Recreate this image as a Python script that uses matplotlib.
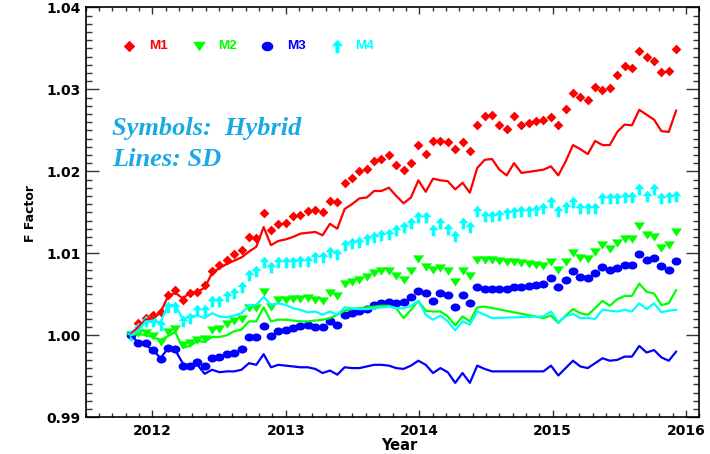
import numpy as np
import matplotlib
matplotlib.use("Agg")
import matplotlib.pyplot as plt
from matplotlib.path import Path
from matplotlib.ticker import MultipleLocator, FormatStrFormatter

# decimal year of each sample
years = [2011.840, 2011.895, 2011.950, 2012.006, 2012.061, 2012.116, 2012.171, 2012.227,
         2012.282, 2012.337, 2012.392, 2012.447, 2012.503, 2012.558, 2012.613, 2012.668,
         2012.724, 2012.779, 2012.834, 2012.889, 2012.944, 2013.000, 2013.055, 2013.110,
         2013.165, 2013.221, 2013.276, 2013.331, 2013.386, 2013.441, 2013.497, 2013.552,
         2013.607, 2013.662, 2013.717, 2013.773, 2013.828, 2013.883, 2013.938, 2013.994,
         2014.049, 2014.104, 2014.159, 2014.214, 2014.270, 2014.325, 2014.380, 2014.435,
         2014.491, 2014.546, 2014.601, 2014.656, 2014.711, 2014.767, 2014.822, 2014.877,
         2014.932, 2014.988, 2015.043, 2015.098, 2015.153, 2015.208, 2015.264, 2015.319,
         2015.374, 2015.429, 2015.485, 2015.540, 2015.595, 2015.650, 2015.705, 2015.761,
         2015.816, 2015.871, 2015.926]

# Hybrid method (symbols)
m1_hybrid = [1.0000, 1.0015, 1.0021, 1.0025, 1.0029, 1.0049, 1.0055, 1.0043, 1.0052, 1.0053,
             1.0061, 1.0078, 1.0086, 1.0092, 1.0099, 1.0104, 1.0120, 1.0119, 1.0149, 1.0128,
             1.0136, 1.0137, 1.0145, 1.0147, 1.0151, 1.0153, 1.0150, 1.0164, 1.0162, 1.0186,
             1.0192, 1.0200, 1.0203, 1.0213, 1.0215, 1.0220, 1.0208, 1.0202, 1.0210, 1.0232,
             1.0221, 1.0237, 1.0237, 1.0236, 1.0227, 1.0236, 1.0225, 1.0256, 1.0267, 1.0269,
             1.0256, 1.0251, 1.0267, 1.0256, 1.0259, 1.0261, 1.0263, 1.0266, 1.0257, 1.0276,
             1.0296, 1.0291, 1.0287, 1.0303, 1.0299, 1.0301, 1.0318, 1.0328, 1.0326, 1.0347,
             1.0340, 1.0335, 1.0321, 1.0322, 1.0349]
m2_hybrid = [1.0000, 1.0003, 1.0003, 0.9999, 0.9992, 1.0004, 1.0008, 0.9988, 0.9990, 0.9994,
             0.9995, 1.0006, 1.0008, 1.0014, 1.0017, 1.0020, 1.0033, 1.0033, 1.0053, 1.0035,
             1.0043, 1.0043, 1.0044, 1.0044, 1.0045, 1.0043, 1.0042, 1.0051, 1.0048, 1.0063,
             1.0065, 1.0067, 1.0071, 1.0076, 1.0078, 1.0079, 1.0072, 1.0068, 1.0079, 1.0093,
             1.0083, 1.0080, 1.0082, 1.0078, 1.0065, 1.0079, 1.0072, 1.0092, 1.0092, 1.0092,
             1.0091, 1.0090, 1.0089, 1.0088, 1.0087, 1.0086, 1.0085, 1.0090, 1.0080, 1.0090,
             1.0100, 1.0094, 1.0093, 1.0102, 1.0110, 1.0105, 1.0113, 1.0117, 1.0117, 1.0133,
             1.0122, 1.0120, 1.0107, 1.0110, 1.0126]
m3_hybrid = [1.0000, 0.9991, 0.9990, 0.9982, 0.9971, 0.9985, 0.9983, 0.9963, 0.9963, 0.9967,
             0.9963, 0.9972, 0.9973, 0.9977, 0.9978, 0.9983, 0.9998, 0.9998, 1.0011, 0.9999,
             1.0005, 1.0007, 1.0009, 1.0011, 1.0013, 1.0010, 1.0010, 1.0017, 1.0013, 1.0025,
             1.0027, 1.0030, 1.0032, 1.0037, 1.0040, 1.0041, 1.0040, 1.0041, 1.0047, 1.0054,
             1.0052, 1.0042, 1.0051, 1.0049, 1.0035, 1.0049, 1.0039, 1.0059, 1.0056, 1.0056,
             1.0057, 1.0057, 1.0059, 1.0059, 1.0060, 1.0061, 1.0063, 1.0070, 1.0059, 1.0067,
             1.0078, 1.0071, 1.0070, 1.0076, 1.0083, 1.0080, 1.0082, 1.0086, 1.0086, 1.0099,
             1.0092, 1.0094, 1.0084, 1.0080, 1.0091]
m4_hybrid = [1.0000, 1.0009, 1.0018, 1.0018, 1.0013, 1.0035, 1.0035, 1.0018, 1.0021, 1.0031,
             1.0031, 1.0042, 1.0042, 1.0048, 1.0051, 1.0059, 1.0073, 1.0078, 1.0089, 1.0083,
             1.0089, 1.0089, 1.0090, 1.0091, 1.0091, 1.0095, 1.0096, 1.0101, 1.0099, 1.0110,
             1.0112, 1.0114, 1.0117, 1.0120, 1.0122, 1.0124, 1.0128, 1.0132, 1.0137, 1.0144,
             1.0144, 1.0129, 1.0137, 1.0130, 1.0121, 1.0137, 1.0132, 1.0151, 1.0146, 1.0145,
             1.0147, 1.0149, 1.0150, 1.0151, 1.0152, 1.0153, 1.0155, 1.0162, 1.0151, 1.0156,
             1.0163, 1.0155, 1.0155, 1.0155, 1.0168, 1.0167, 1.0167, 1.0169, 1.0169, 1.0178,
             1.0170, 1.0178, 1.0167, 1.0169, 1.0170]

# SD method (lines), None = no SD value for that date
m1_sd = [1.0002, 1.0010, 1.0019, 1.0021, 1.0028, 1.0047, 1.0052, 1.0045, 1.0052, 1.0053,
         1.0058, 1.0076, 1.0082, 1.0087, 1.0091, 1.0095, 1.0102, 1.0108, 1.0132, 1.0110,
         1.0115, 1.0117, 1.0120, 1.0124, 1.0125, 1.0126, 1.0122, 1.0136, 1.0130, 1.0154,
         1.0160, 1.0167, 1.0168, 1.0176, 1.0176, 1.0180, 1.0170, 1.0161, 1.0168, 1.0189,
         1.0175, 1.0191, 1.0189, 1.0188, 1.0178, 1.0186, 1.0174, 1.0204, 1.0214, 1.0215,
         1.0202, 1.0195, 1.0210, 1.0198, None, None, 1.0202, 1.0206, 1.0195, 1.0212,
         1.0232, 1.0227, 1.0221, 1.0237, 1.0232, 1.0232, 1.0248, 1.0257, 1.0256, 1.0275,
         1.0269, 1.0263, 1.0249, 1.0248, 1.0274]
m2_sd = [1.0000, 1.0002, 1.0000, 0.9998, 0.9994, 0.9999, 1.0004, 0.9985, 0.9987, 0.9993,
         0.9992, 0.9998, 0.9998, 1.0000, 1.0005, 1.0007, 1.0017, 1.0017, 1.0034, 1.0017,
         1.0019, 1.0019, 1.0018, 1.0017, 1.0017, 1.0018, 1.0019, 1.0021, 1.0025, 1.0030,
         1.0032, 1.0033, 1.0034, 1.0035, 1.0036, 1.0036, 1.0033, 1.0021, 1.0031, 1.0042,
         1.0030, 1.0029, 1.0029, 1.0023, 1.0012, 1.0023, 1.0017, 1.0034, 1.0035, None,
         None, None, None, None, None, None, 1.0021, 1.0024, 1.0015, 1.0024,
         1.0032, 1.0027, 1.0025, 1.0033, 1.0042, 1.0036, 1.0044, 1.0048, 1.0048, 1.0063,
         1.0053, 1.0051, 1.0037, 1.0039, 1.0055]
m3_sd = [1.0000, 0.9991, 0.9988, 0.9982, 0.9972, 0.9984, 0.9982, 0.9966, 0.9960, 0.9964,
         0.9953, 0.9958, 0.9955, 0.9956, 0.9956, 0.9958, 0.9966, 0.9964, 0.9977, 0.9961,
         0.9964, 0.9963, 0.9962, 0.9961, 0.9961, 0.9959, 0.9954, 0.9957, 0.9952, 0.9961,
         0.9960, 0.9960, 0.9962, 0.9964, 0.9964, 0.9963, 0.9960, 0.9959, 0.9963, 0.9969,
         0.9964, 0.9954, 0.9960, 0.9955, 0.9942, 0.9954, 0.9942, 0.9963, 0.9959, 0.9956,
         0.9956, None, None, None, None, None, 0.9956, 0.9963, 0.9951, 0.9960,
         0.9969, 0.9962, 0.9960, 0.9966, 0.9972, 0.9969, 0.9970, 0.9974, 0.9974, 0.9987,
         0.9979, 0.9982, 0.9973, 0.9969, 0.9980]
m4_sd = [1.0000, 1.0006, 1.0017, 1.0016, 1.0016, 1.0037, 1.0037, 1.0020, 1.0023, 1.0024,
         1.0021, 1.0027, 1.0023, 1.0022, 1.0024, 1.0027, 1.0036, 1.0037, 1.0047, 1.0037,
         1.0039, 1.0037, 1.0033, 1.0031, 1.0028, 1.0029, 1.0025, 1.0029, 1.0025, 1.0034,
         1.0033, 1.0032, 1.0032, 1.0033, 1.0034, 1.0035, 1.0033, 1.0033, 1.0036, 1.0042,
         1.0025, 1.0019, 1.0024, 1.0017, 1.0006, 1.0017, 1.0013, 1.0029, 1.0025, 1.0021,
         None, None, None, None, None, None, 1.0023, 1.0029, 1.0016, 1.0023,
         1.0026, 1.0021, 1.0021, 1.0020, 1.0031, 1.0030, 1.0029, 1.0031, 1.0029, 1.0039,
         1.0032, 1.0039, 1.0028, 1.0030, 1.0031]

names = ["M1", "M2", "M3", "M4"]
colors = ["#ff0000", "#00ff00", "#0000ff", "#00ffff"]

# marker shapes (IDL-like symbols)
diamond = Path([(0, 1), (1, 0), (0, -1), (-1, 0), (0, 1)])
tri_down = Path([(-1, 0.75), (1, 0.75), (0, -0.75), (-1, 0.75)])
ang = np.linspace(0, 2 * np.pi, 13)
hexa = Path(np.column_stack([np.cos(ang), 0.82 * np.sin(ang)]))
arrow_up = Path([(-0.3, -1), (0.3, -1), (0.3, 0.05), (0.85, 0.05), (0, 1),
                 (-0.85, 0.05), (-0.3, 0.05), (-0.3, -1)])
markers = [diamond, tri_down, hexa, arrow_up]
msizes = [7.0, 7.9, 7.2, 8.4]

fig = plt.figure(figsize=(7.10, 4.54), dpi=100)
W, H = 710.0, 454.0
ax = fig.add_axes([85.7 / W, 1 - 417.3 / H, (699.3 - 85.7) / W, (417.3 - 7.3) / H])

t = np.array(years)
hybrid = [m1_hybrid, m2_hybrid, m3_hybrid, m4_hybrid]
sd = [m1_sd, m2_sd, m3_sd, m4_sd]

for vals, c, mk, ms in zip(hybrid, colors, markers, msizes):
    ax.plot(t, vals, linestyle="none", marker=mk, markersize=ms,
            markerfacecolor=c, markeredgewidth=0, zorder=2)

for vals, c in zip(sd, colors):
    v = np.array([np.nan if x is None else x for x in vals])
    ok = ~np.isnan(v)
    ax.plot(t[ok], v[ok], color=c, linewidth=1.6, zorder=3)

ax.set_xlim(2011.5, 2016.1)
ax.set_ylim(0.99, 1.04)
ax.xaxis.set_major_locator(MultipleLocator(1))
ax.xaxis.set_minor_locator(MultipleLocator(0.1))
ax.yaxis.set_major_locator(MultipleLocator(0.01))
ax.yaxis.set_minor_locator(MultipleLocator(0.001))
ax.xaxis.set_major_formatter(FormatStrFormatter("%d"))
ax.yaxis.set_major_formatter(FormatStrFormatter("%.2f"))

ax.tick_params(axis="both", which="both", direction="in", top=True, right=True,
               color="#333333", width=1.0)
ax.tick_params(axis="x", which="major", length=5.3, pad=5)
ax.tick_params(axis="x", which="minor", length=3.0)
ax.tick_params(axis="y", which="major", length=9.4, pad=3.5)
ax.tick_params(axis="y", which="minor", length=4.3)
for lab in ax.get_xticklabels() + ax.get_yticklabels():
    lab.set_fontfamily("DejaVu Sans")
    lab.set_fontweight("bold")
    lab.set_fontsize(10)
for s in ax.spines.values():
    s.set_linewidth(1.2)

fig.text(30 / W, 1 - 214 / H, "F Factor", rotation=90, ha="center", va="center",
         fontsize=9, fontweight="bold", family="DejaVu Sans")
fig.text(399 / W, 1 - 446 / H, "Year", ha="center", va="center",
         fontsize=10.5, fontweight="bold", family="DejaVu Sans")

# legend row
leg_mx = [129.3, 199.0, 266.7, 336.7]
leg_tx = [149.0, 217.7, 286.7, 355.0]
for i in range(4):
    ax.plot([leg_mx[i] / W], [1 - 45.7 / H], transform=fig.transFigure, clip_on=False,
            linestyle="none", marker=markers[i], markersize=msizes[i] + 1.3,
            markerfacecolor=colors[i], markeredgewidth=0)
    fig.text(leg_tx[i] / W, 1 - 45.7 / H, names[i], color=colors[i], ha="left",
             va="center", fontsize=9.7, fontweight="bold", family="Liberation Sans")

note_color = "#19aae6"
fig.text(112 / W, 1 - 135 / H, "Symbols:  Hybrid", color=note_color, ha="left",
         va="baseline", fontsize=19, fontweight="bold", fontstyle="italic",
         family="Liberation Serif")
fig.text(112 / W, 1 - 166.5 / H, "Lines: SD", color=note_color, ha="left",
         va="baseline", fontsize=19, fontweight="bold", fontstyle="italic",
         family="Liberation Serif")

fig.savefig("out.png", dpi=100)
